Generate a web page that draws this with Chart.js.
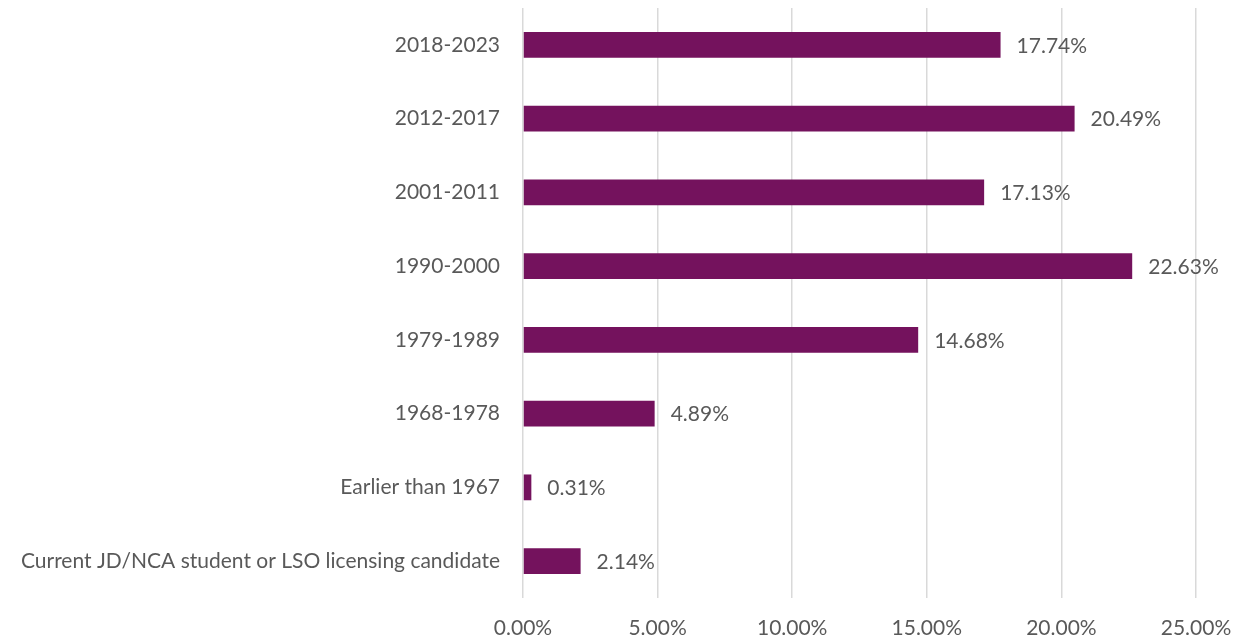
<!DOCTYPE html>
<html>
<head>
<meta charset="utf-8">
<script src="https://cdn.jsdelivr.net/npm/chart.js@4/dist/chart.umd.min.js"></script>
<style>
  html, body { margin: 0; padding: 0; background: #fff; }
  #wrap { width: 1244px; height: 639px; position: relative; }
</style>
</head>
<body>
<div id="wrap"><canvas id="chart"></canvas></div>
<script>
// ---------------- DATA ----------------
const categories = [
    "2018-2023",
    "2012-2017",
    "2001-2011",
    "1990-2000",
    "1979-1989",
    "1968-1978",
    "Earlier than 1967",
    "Current JD/NCA student or LSO licensing candidate"
];
const shares = [17.74, 20.49, 17.13, 22.63, 14.68, 4.89, 0.31, 2.14];
const xTicks = [0, 5, 10, 15, 20, 25];

const textColor = "#595959";
const barColor = "#74125d";
const fontFamily = "Lato, 'Open Sans', sans-serif";
const fontSize = 21;

// ---------------- VALUE LABELS ----------------
const valueLabels = {
    id: "valueLabels",
    afterDatasetsDraw(chart) {
        const ctx = chart.ctx;
        const meta = chart.getDatasetMeta(0);
        ctx.save();
        ctx.font = fontSize + "px " + fontFamily;
        ctx.fillStyle = textColor;
        ctx.textAlign = "left";
        ctx.textBaseline = "middle";
        meta.data.forEach((bar, i) => {
            ctx.fillText(shares[i].toFixed(2) + "%", bar.x + 16, bar.y + 1);
        });
        ctx.restore();
    }
};

// ---------------- CHART ----------------
new Chart(document.getElementById("chart"), {
    type: "bar",
    data: {
        labels: categories,
        datasets: [{
            data: shares,
            backgroundColor: barColor,
            barPercentage: 0.35,
            categoryPercentage: 1
        }]
    },
    options: {
        indexAxis: "y",
        responsive: true,
        maintainAspectRatio: false,
        animation: false,
        layout: { padding: { top: 8, right: 48, left: 0, bottom: 0 } },
        plugins: {
            legend: { display: false },
            tooltip: { enabled: false }
        },
        scales: {
            x: {
                min: 0,
                max: 25,
                afterBuildTicks(axis) {
                    axis.ticks = xTicks.map(v => ({ value: v }));
                },
                afterFit(axis) {
                    axis.height = 41;
                    axis.paddingLeft = 0;
                    axis.paddingRight = 0;
                },
                grid: { color: "#d9d9d9", lineWidth: 1.5, drawTicks: false },
                border: { display: false },
                ticks: {
                    color: textColor,
                    font: { size: fontSize, family: fontFamily },
                    padding: 18,
                    callback: v => v.toFixed(2) + "%"
                }
            },
            y: {
                afterFit(axis) {
                    axis.width = 523;
                    axis.paddingTop = 0;
                    axis.paddingBottom = 0;
                },
                grid: { display: false, drawTicks: false },
                border: { display: false },
                ticks: {
                    color: textColor,
                    font: { size: fontSize, family: fontFamily },
                    padding: 23
                }
            }
        }
    },
    plugins: [valueLabels]
});
</script>
</body>
</html>
